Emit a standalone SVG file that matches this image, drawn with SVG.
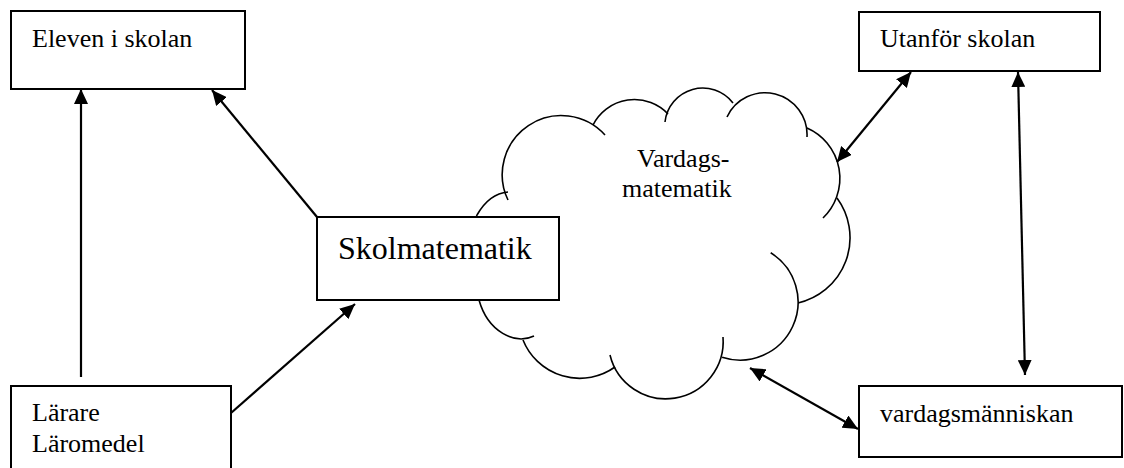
<svg xmlns="http://www.w3.org/2000/svg" width="1124" height="468" viewBox="0 0 1124 468">
<style>
.box{fill:#fff;stroke:#000;stroke-width:2}
.lbl{font-family:"Liberation Serif","Times New Roman",serif;font-size:26px;fill:#000}
.big{font-size:32px}
.cloud path{fill:none;stroke:#000;stroke-width:1.6}
.conn line{stroke:#000;stroke-width:2.2}
</style>
<defs>
<marker id="ah" viewBox="0 0 15 14" refX="15" refY="7" markerWidth="15" markerHeight="14" markerUnits="userSpaceOnUse" orient="auto-start-reverse">
<path d="M0,0 L15,7 L0,14 z" fill="#000"/>
</marker>
</defs>
<rect width="1124" height="468" fill="#fff"/>

<g id="cloud" class="cloud">
<path d="M508 200 A59 59 0 0 1 605 135"/>
<path d="M593 125 A46.4 46.4 0 0 1 668 114"/>
<path d="M665 122 A38 38 0 0 1 733 103"/>
<path d="M727 117 A42 42 0 0 1 807 137"/>
<path d="M807 128 A55 55 0 0 1 823 218"/>
<path d="M837 198 A67 67 0 0 1 798 303"/>
<path d="M770.7 252.8 A58 58 0 0 1 722.1 357.2"/>
<path d="M723 337 A57.4 57.4 0 0 1 610 355"/>
<path d="M615 367 A61 61 0 0 1 523 340"/>
<path d="M534 336 C515 345 488 332 479 300 C468 268 468 232 477 215 C485 201 496 193 508 192"/>
<text class="lbl" x="637" y="167">Vardags-</text>
<text class="lbl" x="622" y="197">matematik</text>
</g>

<g id="conn" class="conn">
<line x1="81" y1="377" x2="81" y2="89" marker-end="url(#ah)"/>
<line x1="317" y1="217" x2="212" y2="90" marker-end="url(#ah)"/>
<line x1="231" y1="413" x2="355" y2="304" marker-end="url(#ah)"/>
<line x1="837" y1="162" x2="911" y2="72" marker-start="url(#ah)" marker-end="url(#ah)"/>
<line x1="1018" y1="72" x2="1025" y2="375" marker-start="url(#ah)" marker-end="url(#ah)"/>
<line x1="750" y1="368" x2="858" y2="429" marker-start="url(#ah)" marker-end="url(#ah)"/>
</g>

<g id="eleven">
<rect class="box" x="11" y="11" width="234" height="78"/>
<text class="lbl" x="32" y="47">Eleven i skolan</text>
</g>

<g id="larare">
<rect class="box" x="11" y="386" width="220" height="90"/>
<text class="lbl" x="32" y="421">Lärare</text>
<text class="lbl" x="32" y="452">Läromedel</text>
</g>

<g id="skolmatematik">
<rect class="box" x="317" y="217" width="242" height="83"/>
<text class="lbl big" x="338" y="259">Skolmatematik</text>
</g>

<g id="utanfor">
<rect class="box" x="859" y="12" width="241" height="59"/>
<text class="lbl" x="880" y="47">Utanför skolan</text>
</g>

<g id="vardagsmanniskan">
<rect class="box" x="859" y="386" width="263" height="71"/>
<text class="lbl" x="880" y="422">vardagsmänniskan</text>
</g>
</svg>
